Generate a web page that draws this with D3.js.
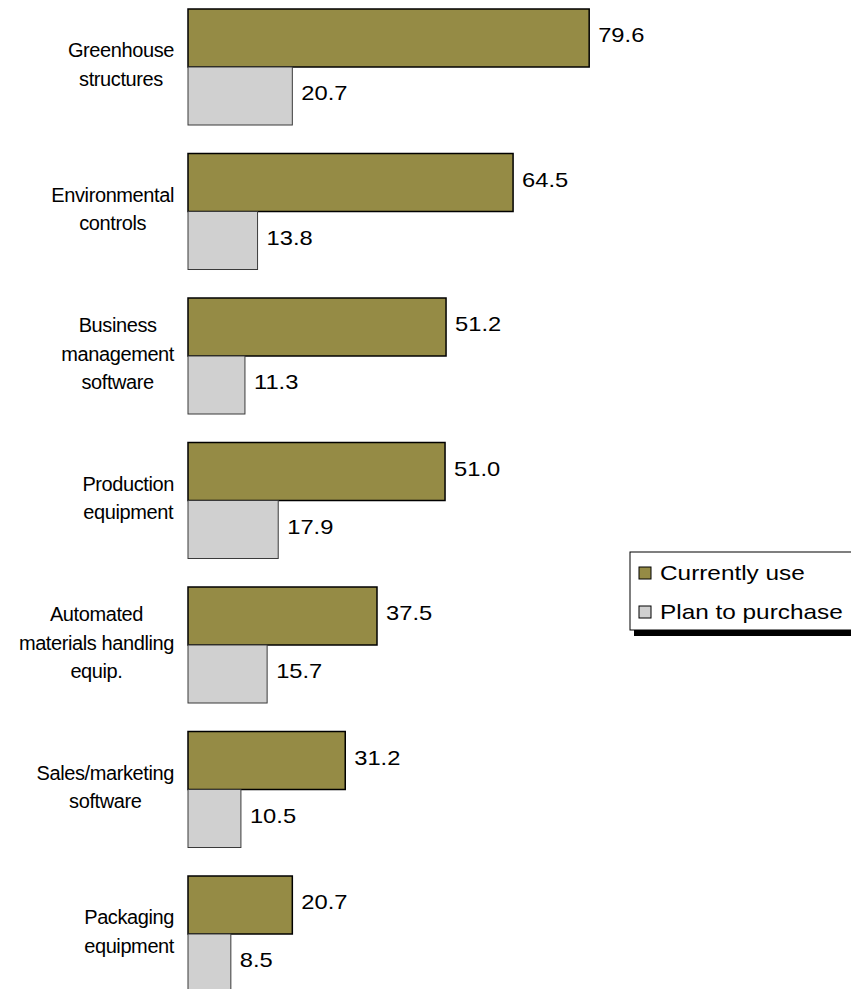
<!DOCTYPE html>
<html>
<head>
<meta charset="utf-8">
<script src="https://cdn.jsdelivr.net/npm/d3@7"></script>
<style>
  html, body { margin: 0; padding: 0; background: #ffffff; }
  svg { display: block; }
  text { font-family: "Liberation Sans", Arial, sans-serif; fill: #000; }
</style>
</head>
<body>
<script>
// Technology use among greenhouse operations (percent of respondents)
const categories = [
  ["Greenhouse", "structures"],
  ["Environmental", "controls"],
  ["Business", "management", "software"],
  ["Production", "equipment"],
  ["Automated", "materials handling", "equip."],
  ["Sales/marketing", "software"],
  ["Packaging", "equipment"]
];
const seriesNames = ["Currently use", "Plan to purchase"];
const currentlyUse = [79.6, 64.5, 51.2, 51.0, 37.5, 31.2, 20.7];
const planToPurchase = [20.7, 13.8, 11.3, 17.9, 15.7, 10.5, 8.5];

const W = 851, H = 989;
const colors = { "Currently use": "#958b45", "Plan to purchase": "#d0d0d0" };
const strokes = { "Currently use": "#000000", "Plan to purchase": "#3a3a3a" };

const svg = d3.select("body").append("svg")
  .attr("width", W).attr("height", H);

const keys = categories.map(c => c.join(" "));

// Percent axis (not drawn)
const x = d3.scaleLinear().domain([0, 100]).range([188, 692]);

// One band per category, two bars inside each band
const step = 144.5;
const y = d3.scaleBand()
  .domain(keys)
  .range([9 - step * 0.0986, 9 - step * 0.0986 + step * keys.length])
  .paddingInner(0.1972)
  .paddingOuter(0.0986);
const ySub = d3.scaleBand().domain(seriesNames).range([0, y.bandwidth()]).padding(0);

const rows = keys.map((k, i) => ({
  key: k,
  lines: categories[i],
  values: [
    { name: seriesNames[0], value: currentlyUse[i] },
    { name: seriesNames[1], value: planToPurchase[i] }
  ]
}));

const groups = svg.selectAll("g.cat").data(rows).join("g")
  .attr("class", "cat")
  .attr("transform", d => `translate(0,${y(d.key)})`);

// Bars
groups.selectAll("rect").data(d => d.values).join("rect")
  .attr("x", x(0))
  .attr("y", d => ySub(d.name))
  .attr("width", d => x(d.value) - x(0))
  .attr("height", ySub.bandwidth())
  .attr("fill", d => colors[d.name])
  .attr("stroke", d => strokes[d.name])
  .attr("stroke-width", d => d.name === seriesNames[0] ? 1.5 : 1);

// Value labels to the right of each bar
groups.selectAll("text.val").data(d => d.values).join("text")
  .attr("class", "val")
  .attr("transform", d => `translate(${x(d.value) + 9},${ySub(d.name) + ySub.bandwidth() / 2 - 3}) scale(1.13,1)`)
  .attr("dominant-baseline", "central")
  .style("font-size", "21px")
  .text(d => d.value.toFixed(1));

// Category labels: lines centred on each other, block right-aligned near the bars
const labelRight = 174;
const lineH = 28.3;
groups.each(function(d) {
  const g = d3.select(this);
  const cy = y.bandwidth() / 2 - 2.5;
  const n = d.lines.length;
  const lab = g.append("g").attr("class", "catlab");
  const texts = lab.selectAll("text").data(d.lines).join("text")
    .attr("x", 0)
    .attr("y", (l, i) => cy + (i - (n - 1) / 2) * lineH)
    .attr("text-anchor", "middle")
    .attr("dominant-baseline", "central")
    .style("font-size", "20px")
    .style("letter-spacing", "-0.4px")
    .text(l => l);
  let maxW = 0;
  texts.each(function() { maxW = Math.max(maxW, this.getComputedTextLength()); });
  lab.attr("transform", `translate(${labelRight - maxW / 2},0)`);
});

// Legend with drop shadow
const legend = svg.append("g").attr("class", "legend");
const lx = 630, ly = 552, lw = 240, lh = 78;
legend.append("rect")
  .attr("x", lx + 4).attr("y", ly + 6).attr("width", lw).attr("height", lh)
  .attr("fill", "#000");
legend.append("rect")
  .attr("x", lx).attr("y", ly).attr("width", lw).attr("height", lh)
  .attr("fill", "#fff").attr("stroke", "#000").attr("stroke-width", 1);

const items = legend.selectAll("g.item").data(seriesNames).join("g")
  .attr("class", "item")
  .attr("transform", (d, i) => `translate(${lx + 9},${ly + 21 + i * 39})`);
items.append("rect")
  .attr("x", 0).attr("y", -6).attr("width", 12).attr("height", 12)
  .attr("fill", d => colors[d])
  .attr("stroke", "#000").attr("stroke-width", 1);
items.append("text")
  .attr("transform", "translate(21,0) scale(1.16,1)")
  .attr("dominant-baseline", "central")
  .style("font-size", "21px")
  .text(d => d);
</script>
</body>
</html>
